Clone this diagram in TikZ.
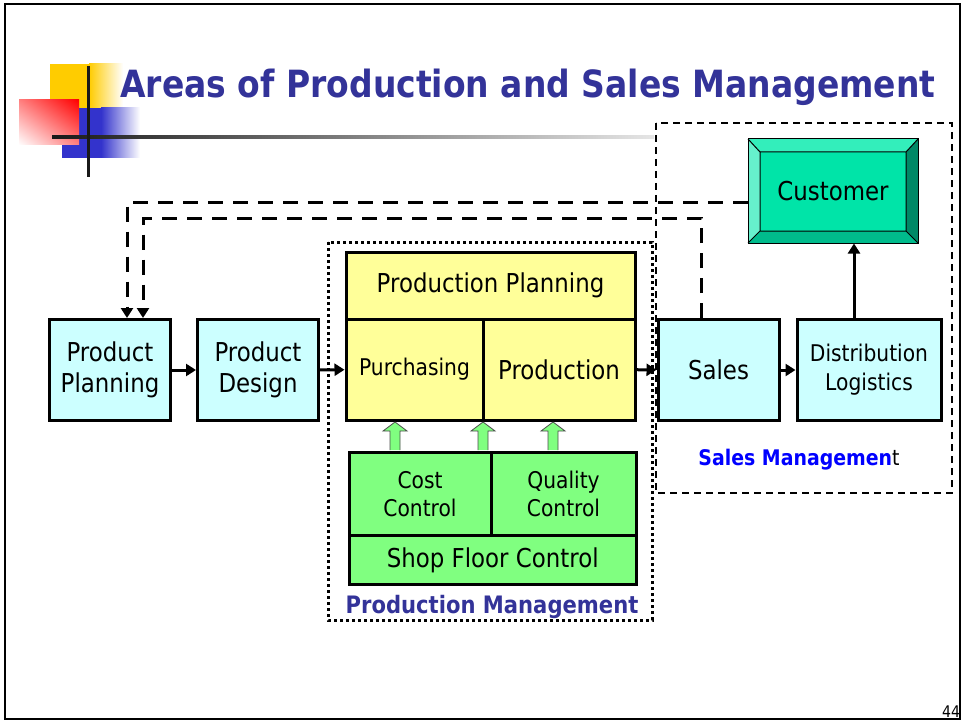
\documentclass[tikz,border=0pt]{standalone}
\usepackage{fontspec}
\setmainfont{DejaVu Sans}[FakeStretch=0.88]
\usetikzlibrary{arrows.meta,shadings}
\definecolor{titleblue}{RGB}{51,51,153}
\definecolor{boxcyan}{RGB}{204,255,255}
\definecolor{boxyellow}{RGB}{255,255,153}
\definecolor{boxgreen}{RGB}{128,255,128}
\definecolor{custmain}{RGB}{0,228,168}
\definecolor{custtop}{RGB}{51,238,187}
\definecolor{custleft}{RGB}{102,240,204}
\definecolor{custright}{RGB}{0,136,102}
\definecolor{custbottom}{RGB}{0,187,140}
\definecolor{logoyellow}{RGB}{255,204,0}
\definecolor{logoblue}{RGB}{51,51,204}
\newcommand\fsz[2]{\fontsize{#1pt}{#2pt}\selectfont}

\begin{document}
\begin{tikzpicture}[x=1pt,y=-1pt,
  box/.style={draw,line width=3pt,minimum width=121pt,minimum height=101pt,
    align=center,inner sep=2pt,font=\fsz{26}{31}},
  cyanbox/.style={box,fill=boxcyan},
  yellowbox/.style={box,fill=boxyellow},
  greenbox/.style={box,fill=boxgreen,font=\fsz{23}{28}},
  arr/.style={line width=3pt,-{Triangle[length=10pt,width=12pt]}},
  feedback/.style={arr,dash pattern=on 15pt off 10pt},
  blockarrow/.style={fill=boxgreen,draw=black!70,line width=0.8pt}]
\useasboundingbox (0,0) rectangle (963,722);
% slide frame
\draw[line width=2pt] (5,4) -- (960,4) -- (960,719) -- (5,719) -- cycle;
% logo
\fill[logoyellow] (50,64) rectangle (89,108);
\shade[left color=logoyellow,right color=white] (89,64) rectangle (123,108);
\fill[logoblue] (62,108) rectangle (101,158);
\shade[left color=logoblue,right color=white] (101,108) rectangle (140,158);
\shade[upper left=red!50,upper right=red,lower left=white,lower right=red!50] (19,100) rectangle (79,145);
\shade[left color=black!90,right color=black!10] (52,135.5) rectangle (654,138.5);
\draw[line width=3pt,black!90] (88,66) -- (88,177);
\node[anchor=base west,inner sep=0,font=\bfseries\fsz{37.5}{44},text=titleblue] (title) at (120,98)
  {Areas of Production and Sales Management};
% management areas
\draw[line width=2.5pt,dash pattern=on 7pt off 5pt] (656,123) rectangle (952,493);
\draw[line width=3pt,dash pattern=on 3pt off 3pt] (328,242) rectangle (652,620);
% customer
\fill[custtop] (748,139) -- (918,139) -- (906,152) -- (760,152) -- cycle;
\fill[custleft] (748,139) -- (760,152) -- (760,231) -- (748,243) -- cycle;
\fill[custright] (918,139) -- (906,152) -- (906,231) -- (918,243) -- cycle;
\fill[custbottom] (748,243) -- (760,231) -- (906,231) -- (918,243) -- cycle;
\fill[custmain] (760,152) rectangle (906,231);
\draw[line width=1pt] (760,152) rectangle (906,231)
  (748,139) -- (760,152) (918,139) -- (906,152) (748,243) -- (760,231) (918,243) -- (906,231);
\node[draw,line width=1pt,minimum width=170pt,minimum height=104pt,font=\fsz{26}{31}] (cust) at (833,191) {Customer};
% boxes
\node[cyanbox] (pp) at (110,370) {Product\\Planning};
\node[cyanbox] (pd) at (258,370) {Product\\Design};
\node[yellowbox,minimum width=289pt,minimum height=67pt] (plan) at (490.5,285.5) {Production Planning};
\node[yellowbox,minimum width=137pt,font=\fsz{23}{28}] (purch) at (414.5,369.5) {Purchasing};
\node[yellowbox,minimum width=152pt] (prod) at (559,369.5) {Production};
\node[cyanbox] (sales) at (718.5,370) {Sales};
\node[cyanbox,minimum width=144pt,font=\fsz{23}{29}] (dl) at (869,370) {Distribution\\Logistics};
\node[greenbox,minimum width=142pt,minimum height=83pt] (cost) at (420,494) {Cost\\Control};
\node[greenbox,minimum width=145pt,minimum height=83pt] (qual) at (563.5,494) {Quality\\Control};
\node[greenbox,minimum width=287pt,minimum height=49pt,font=\fsz{26}{31}] (shop) at (492.75,560) {Shop Floor Control};
% flow
\draw[arr] (pp) -- (pd);
\draw[arr] (pd) -- (purch);
\draw[arr] (prod) -- (sales);
\draw[arr] (sales) -- (dl);
\draw[arr] ([xshift=-15pt]dl.north) -- ([xshift=-15pt]dl.north |- cust.south);
\draw[feedback] ([yshift=-11pt]cust.west) -| ([xshift=17pt]pp.north);
\draw[feedback] ([xshift=-17pt]sales.north) -- ++(0,-100) -| ([xshift=33pt]pp.north);
\foreach \x in {395,483,553}
  \draw[blockarrow] (\x-5,450) -- (\x-5,431) -- (\x-12,431) -- (\x,422) -- (\x+12,431) -- (\x+5,431) -- (\x+5,450);
% labels
\node[anchor=base,font=\bfseries\fsz{24}{28},text=titleblue] (pmlabel) at (492,613) {Production Management};
\node[anchor=base,font=\fsz{21.5}{26}] (smlabel) at (799,465) {\textcolor{blue}{\bfseries Sales Managemen}t};
\node[anchor=base,inner sep=0,font=\fsz{16}{19}] (pageno) at (951,717) {44};
\end{tikzpicture}
\end{document}
